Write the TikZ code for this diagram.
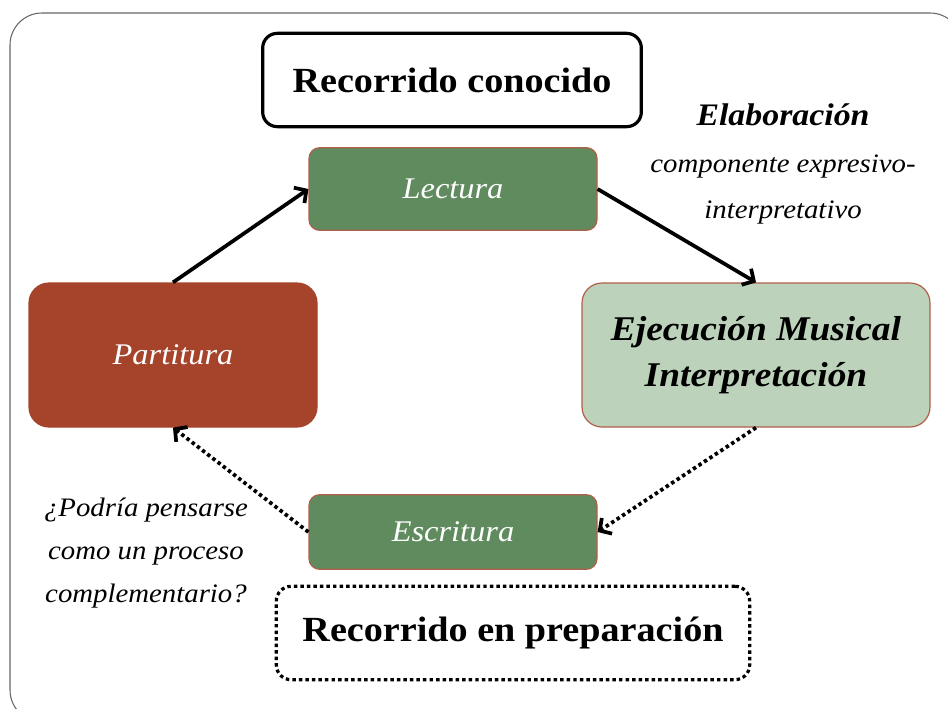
\documentclass[tikz,border=0pt]{standalone}
\usepackage{fontspec}
\setmainfont[FakeStretch=1.08]{Liberation Serif}
\usetikzlibrary{arrows.meta,calc}
\definecolor{LGreen}{HTML}{5F8B5E}
\definecolor{PGreen}{HTML}{BCD2BA}
\definecolor{PRust}{HTML}{A6432B}
\definecolor{BEdge}{HTML}{B0604A}
\tikzset{
    block/.style = {draw=BEdge, line width=0.9pt, rounded corners=8pt,
        align=center, inner sep=0pt},
    bigblock/.style = {block, rounded corners=15pt,
        minimum width=216pt, minimum height=108pt},
    note/.style = {align=center, font=\fontsize{20}{32}\selectfont\itshape},
    arrow/.style = {draw, line width=2.8pt, -{Straight Barb[length=6.5pt,width=14pt]}},
    dotarrow/.style = {arrow, dash pattern=on 2.6pt off 2.3pt},
    headbox/.style = {draw, line width=2.4pt, rounded corners=11pt,
        font=\fontsize{26.5}{30}\selectfont\bfseries, minimum height=70pt}
}

\begin{document}
\begin{tikzpicture}[x=0.75pt,y=-0.75pt]
    \clip (0,0) rectangle (948,708);
    \draw[gray!80!black, line width=0.8pt, rounded corners=24pt] (10,13) rectangle (962,722);

    \node[headbox, minimum width=284pt] (conocido) at (452,80) {Recorrido conocido};
    \node[headbox, dash pattern=on 2.6pt off 2.3pt, minimum width=355pt] (preparacion) at (513,633) {Recorrido en preparación};

    \node[block, fill=LGreen, text=white, minimum width=216pt, minimum height=62pt,
        font=\fontsize{22.5}{26}\selectfont\itshape] (lectura) at (453,189) {Lectura};
    \node[block, fill=LGreen, text=white, minimum width=216pt, minimum height=56pt,
        font=\fontsize{22.5}{26}\selectfont\itshape] (escritura) at (453,532) {Escritura};
    \node[bigblock, draw=PRust, fill=PRust, text=white,
        font=\fontsize{22.5}{26}\selectfont\itshape] (partitura) at (173,355) {Partitura};
    \node[bigblock, fill=PGreen, minimum width=261pt,
        font=\fontsize{26}{34}\selectfont\bfseries\itshape] (ejecucion) at (756,355) {Ejecución Musical\\Interpretación};

    \node[note, font=\fontsize{20}{35}\selectfont\itshape] (elab) at (783,164)
        {{\fontsize{23.5}{35}\selectfont\bfseries Elaboración}\\componente expresivo-\\interpretativo};
    \node[note] (duda) at (146,553) {¿Podría pensarse\\como un proceso\\complementario?};

    \draw[arrow] (partitura.north) -- (lectura.west);
    \draw[arrow] (lectura.east) -- (ejecucion.north);
    \draw[dotarrow] (ejecucion.south) -- (escritura.east);
    \draw[dotarrow] (escritura.west) -- (partitura.south);
\end{tikzpicture}
\end{document}
